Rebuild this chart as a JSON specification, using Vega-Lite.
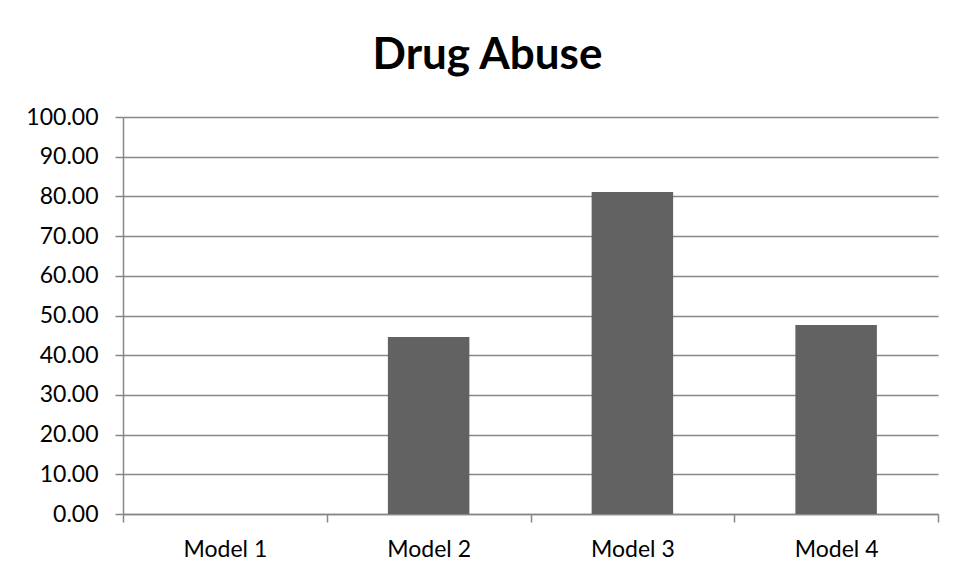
{
  "$schema": "https://vega.github.io/schema/vega-lite/v6.json",
  "width": 815,
  "height": 397,
  "autosize": {"type": "none"},
  "padding": {"left": 123, "top": 117, "right": 19, "bottom": 65},
  "background": "white",
  "title": {"text": "Drug Abuse", "font": "Lato", "fontSize": 44, "fontWeight": "bold", "color": "black", "anchor": "middle", "frame": "group", "dx": -43, "offset": 28},
  "data": {"values": [
    {"model": "Model 1", "value": 0},
    {"model": "Model 2", "value": 44.6},
    {"model": "Model 3", "value": 81.1},
    {"model": "Model 4", "value": 47.6}
  ]},
  "mark": {"type": "bar", "color": "#626262", "width": {"band": 0.4}},
  "encoding": {
    "x": {
      "field": "model", "type": "nominal", "sort": null,
      "scale": {"paddingInner": 0, "paddingOuter": 0},
      "axis": {"title": null, "labelAngle": 0, "tickBand": "extent", "grid": false, "tickSize": 8, "labelPadding": 16}
    },
    "y": {
      "field": "value", "type": "quantitative",
      "scale": {"domain": [0, 100], "nice": false},
      "axis": {"title": null, "format": ".2f", "values": [0, 10, 20, 30, 40, 50, 60, 70, 80, 90, 100], "tickSize": 8, "labelPadding": 17, "grid": true}
    }
  },
  "config": {
    "view": {"stroke": null},
    "axis": {
      "labelFont": "Lato", "labelFontSize": 23, "labelColor": "black",
      "domainColor": "#878787", "domainWidth": 1.5,
      "tickColor": "#878787", "tickWidth": 1.5,
      "gridColor": "#878787", "gridWidth": 1.5
    }
  }
}
